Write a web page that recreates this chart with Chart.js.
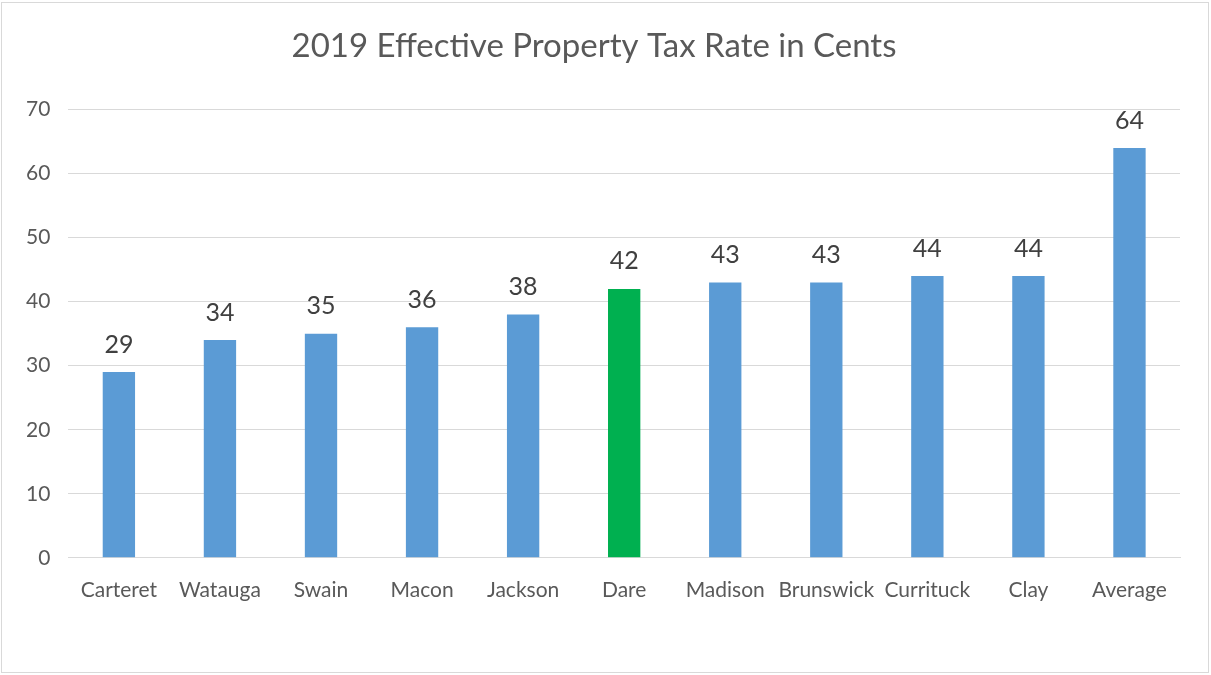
<!DOCTYPE html>
<html lang="en">
<head>
    <meta charset="UTF-8">
    <title>2019 Effective Property Tax Rate in Cents</title>
    <script src="https://cdn.jsdelivr.net/npm/chart.js"></script>
    <style>
        html, body { margin: 0; padding: 0; background: #ffffff; }
        .box {
            position: absolute;
            left: 1px; top: 2px;
            width: 1206px; height: 669px;
            border: 1px solid #d9d9d9;
            background: #ffffff;
        }
    </style>
</head>
<body>
    <div class="box">
        <canvas id="taxChart" width="1206" height="669"></canvas>
    </div>
    <script>
        const counties = ["Carteret", "Watauga", "Swain", "Macon", "Jackson", "Dare", "Madison", "Brunswick", "Currituck", "Clay", "Average"];
        const rates = [29, 34, 35, 36, 38, 42, 43, 43, 44, 44, 64];
        const barColors = ["#5b9bd5", "#5b9bd5", "#5b9bd5", "#5b9bd5", "#5b9bd5", "#00b050", "#5b9bd5", "#5b9bd5", "#5b9bd5", "#5b9bd5", "#5b9bd5"];
        const yTicks = [0, 10, 20, 30, 40, 50, 60, 70];

        const fontName = "Lato, 'Open Sans', sans-serif";
        const textColor = "#595959";

        // values above the bars
        const valueLabels = {
            id: "valueLabels",
            afterDatasetsDraw(chart) {
                const ctx = chart.ctx;
                const meta = chart.getDatasetMeta(0);
                ctx.save();
                ctx.font = "25px " + fontName;
                ctx.fillStyle = "#404040";
                ctx.textAlign = "center";
                ctx.textBaseline = "bottom";
                meta.data.forEach(function (bar, i) {
                    ctx.fillText(rates[i], bar.x, bar.y - 15);
                });
                ctx.restore();
            }
        };

        new Chart(document.getElementById("taxChart"), {
            type: "bar",
            data: {
                labels: counties,
                datasets: [{
                    data: rates,
                    backgroundColor: barColors,
                    categoryPercentage: 1,
                    barPercentage: 0.32
                }]
            },
            options: {
                responsive: false,
                animation: false,
                layout: { padding: { left: 6, right: 28, top: 12, bottom: 57 } },
                plugins: {
                    legend: { display: false },
                    tooltip: { enabled: false },
                    title: {
                        display: true,
                        text: "2019 Effective Property Tax Rate in Cents",
                        color: textColor,
                        font: { family: fontName, size: 33, weight: "normal" },
                        padding: { top: 12, bottom: 43 }
                    }
                },
                scales: {
                    x: {
                        grid: { display: false },
                        border: { color: "#d9d9d9", width: 1 },
                        ticks: { color: textColor, font: { family: fontName, size: 21 }, padding: 12, maxRotation: 0, autoSkip: false }
                    },
                    y: {
                        min: 0,
                        max: 70,
                        afterBuildTicks(axis) { axis.ticks = yTicks.map(v => ({ value: v })); },
                        grid: { color: "#d9d9d9", lineWidth: 1, drawTicks: false },
                        border: { display: false },
                        ticks: { color: textColor, font: { family: fontName, size: 21 }, padding: 18 }
                    }
                }
            },
            plugins: [valueLabels]
        });
    </script>
</body>
</html>
